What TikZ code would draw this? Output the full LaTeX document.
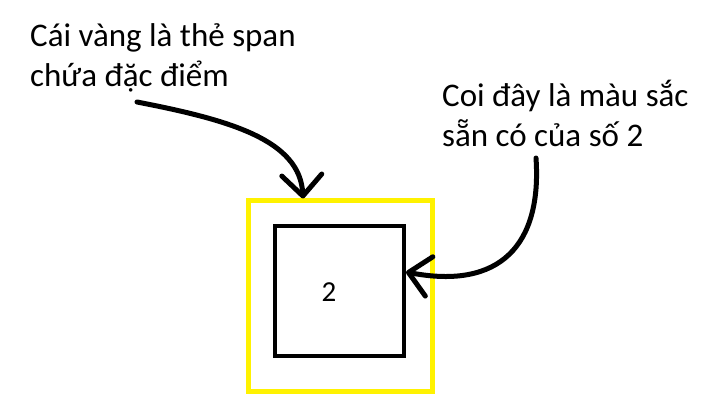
\documentclass[tikz,border=0pt]{standalone}
\usepackage{fontspec}
\setmainfont{Carlito}
\usetikzlibrary{arrows.meta}
\definecolor{pyellow}{RGB}{255,242,0}
\begin{document}
\begin{tikzpicture}[x=1pt,y=-1pt,
  lbl/.style={inner sep=0pt, align=left, anchor=base west, font=\fontsize{33}{40}\selectfont},
  arr/.style={line width=5pt, line cap=round, line join=round,
    -{Straight Barb[length=21pt,width=40pt,line cap=round,line join=round]}}]
\useasboundingbox (0,0) rectangle (716,414);
\node[draw=pyellow, line width=5pt, minimum width=184pt, minimum height=191pt, inner sep=0pt] (span) at (340,296.5) {};
\node[draw=black, line width=4pt, minimum width=129pt, minimum height=130pt, inner sep=0pt] (box) at (339.5,291) {};
\node[inner sep=0pt, anchor=base, font=\fontsize{29}{32}\selectfont] (two) at (329,302) {2};
\node[lbl] (t1) at (30,87) {Cái vàng là thẻ span\\chứa đặc điểm};
\node[lbl] (t2) at (442,147) {Coi đây là màu sắc\\sẵn có của số 2};
\coordinate (s1) at (137,102);
\coordinate (s2) at (536,158);
\draw[arr] (s1) .. controls (230,120) and (300,140) .. (span.north -| 303,0);
\draw[arr] (s2) .. controls (542,245) and (500,290) .. (box.east |- 0,272);
\end{tikzpicture}
\end{document}
